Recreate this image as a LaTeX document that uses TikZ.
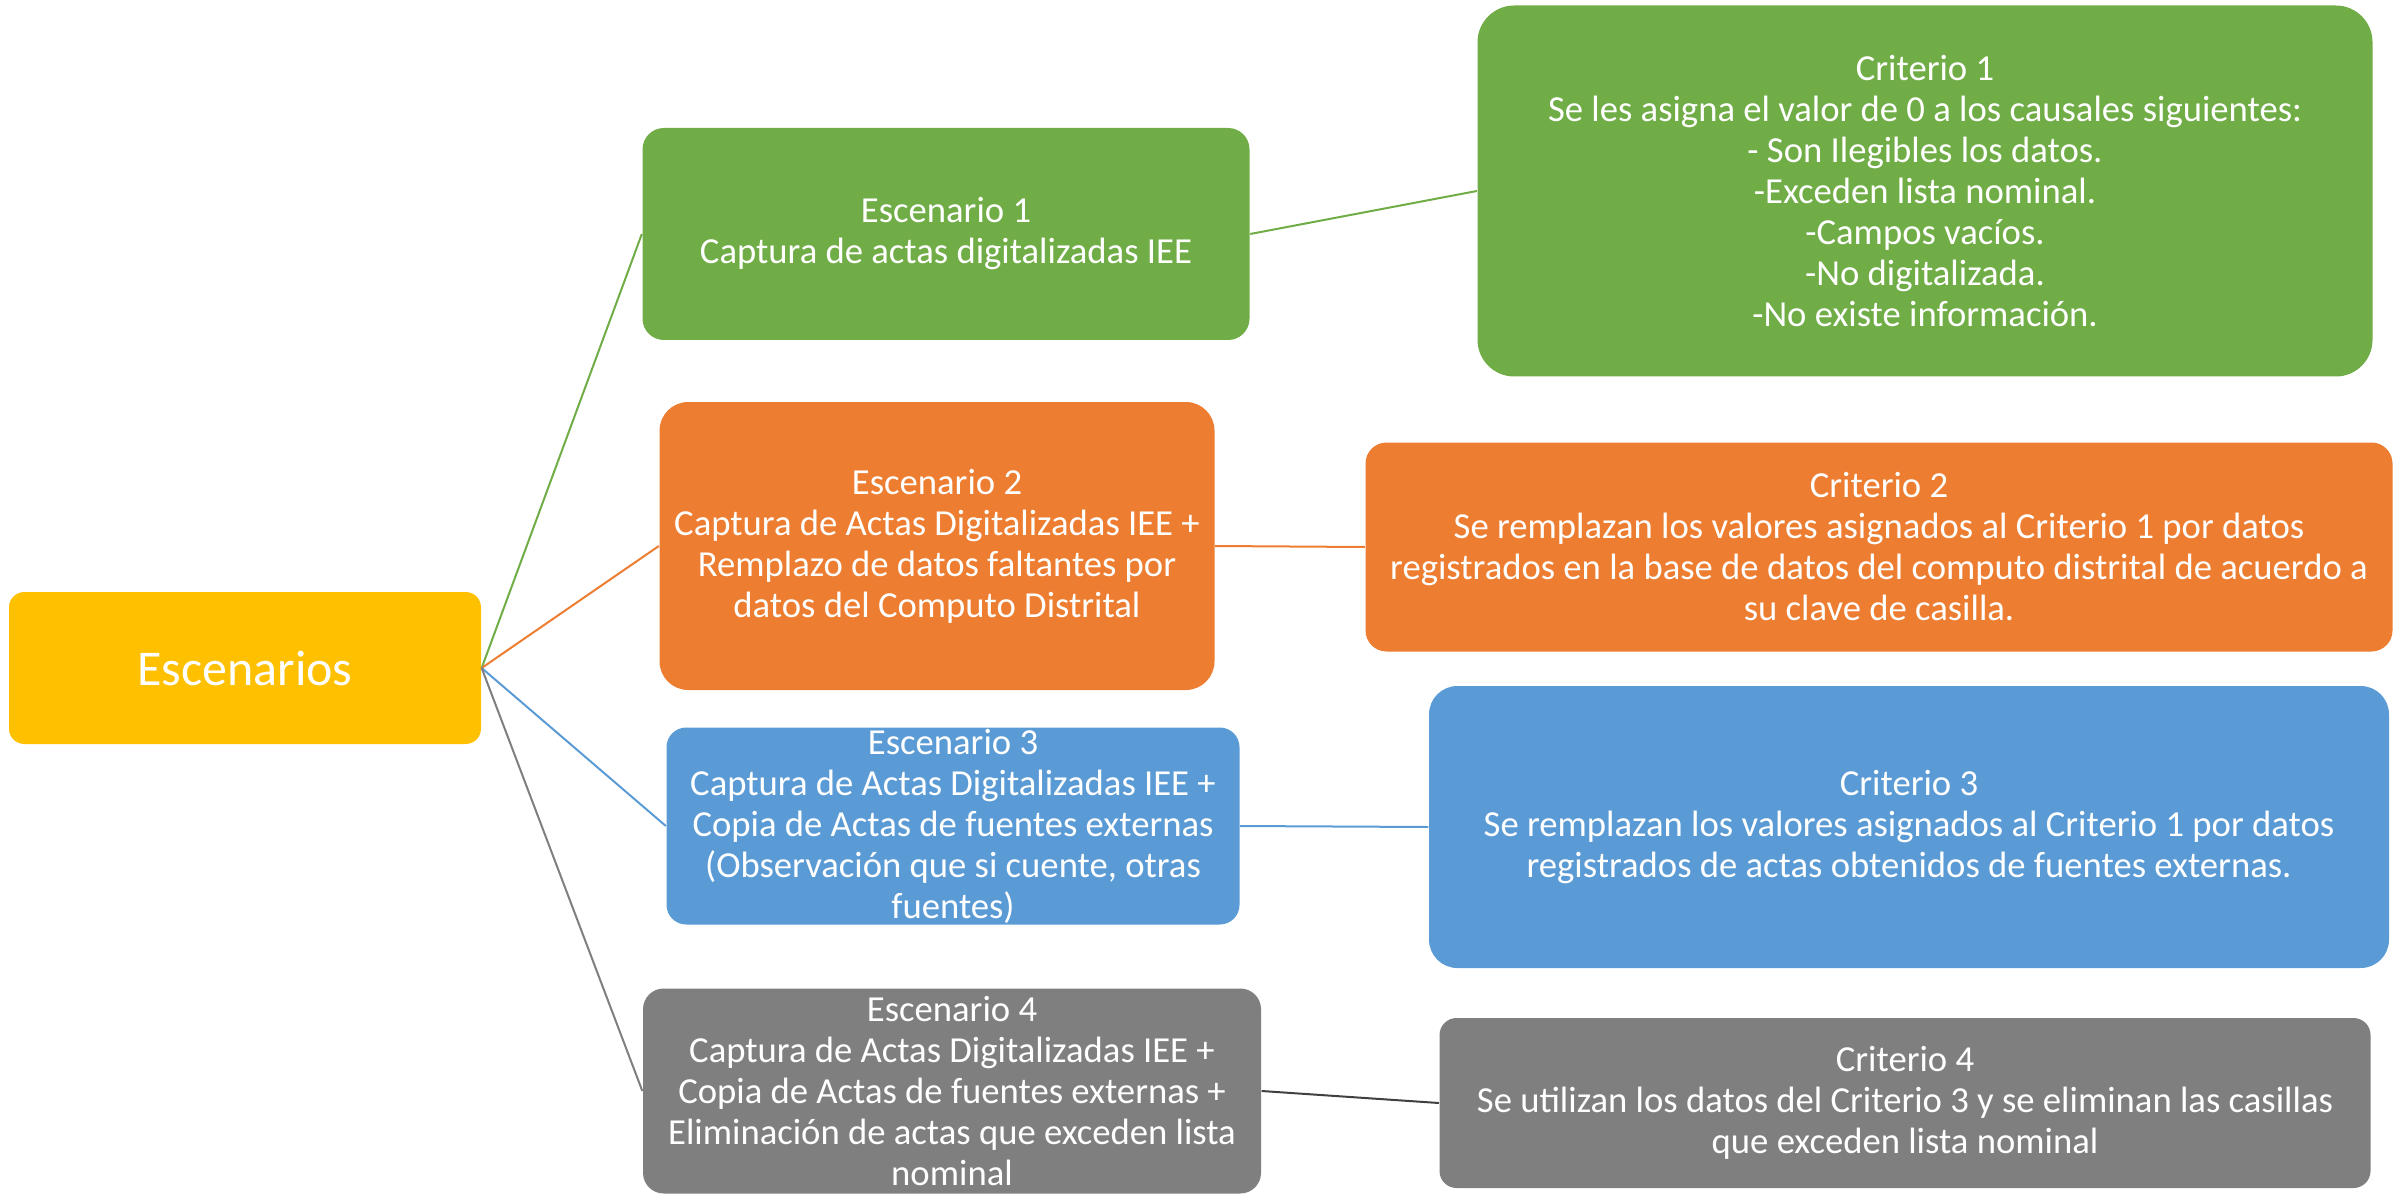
\documentclass[tikz,border=0pt]{standalone}
\usepackage{fontspec}
\setmainfont{Carlito}
\usetikzlibrary{positioning}

\definecolor{escgold}{HTML}{FFC000}
\definecolor{escgreen}{HTML}{70AD47}
\definecolor{escorange}{HTML}{ED7D31}
\definecolor{escblue}{HTML}{5B9BD5}
\definecolor{escgray}{HTML}{7F7F7F}
\definecolor{escdark}{HTML}{404040}

\begin{document}
\begin{tikzpicture}[x=0.3pt,y=-0.3pt,
  box/.style={rounded corners=#1, text=white, align=center, inner sep=0pt,
    font=\fontsize{11}{12.3}\selectfont},
  link/.style={line width=0.6pt}]
  \useasboundingbox (0,0) rectangle (2394,1197);

  \node[box=4.6pt, fill=escgold, minimum width=141.6pt, minimum height=45.6pt,
    font=\fontsize{15}{18}\selectfont] (root) at (245,668) {Escenarios};

  \node[box=6.4pt, fill=escgreen, minimum width=182.1pt, minimum height=63.6pt]
    (esc1) at (946,234) {Escenario 1\\Captura de actas digitalizadas IEE};
  \node[box=11pt, fill=escgreen, minimum width=268.5pt, minimum height=111.3pt]
    (crit1) at (1925,191) {Criterio 1\\Se les asigna el valor de 0 a los causales siguientes:\\
    - Son Ilegibles los datos.\\-Exceden lista nominal.\\-Campos vacíos.\\
    -No digitalizada.\\-No existe información.};

  \node[box=8.6pt, fill=escorange, minimum width=166.5pt, minimum height=86.4pt]
    (esc2) at (937,546) {Escenario 2\\Captura de Actas Digitalizadas IEE +\\
    Remplazo de datos faltantes por\\datos del Computo Distrital};
  \node[box=6.3pt, fill=escorange, minimum width=308.1pt, minimum height=62.7pt]
    (crit2) at (1879,547) {Criterio 2\\Se remplazan los valores asignados al Criterio 1 por datos\\
    registrados en la base de datos del computo distrital de acuerdo a\\su clave de casilla.};

  \node[box=5.9pt, fill=escblue, minimum width=171.9pt, minimum height=59.1pt]
    (esc3) at (953,826) {Escenario 3\\Captura de Actas Digitalizadas IEE +\\
    Copia de Actas de fuentes externas\\(Observación que si cuente, otras\\fuentes)};
  \node[box=8.5pt, fill=escblue, minimum width=288pt, minimum height=84.6pt]
    (crit3) at (1909,827) {Criterio 3\\Se remplazan los valores asignados al Criterio 1 por datos\\
    registrados de actas obtenidos de fuentes externas.};

  \node[box=6.2pt, fill=escgray, minimum width=185.4pt, minimum height=61.5pt]
    (esc4) at (952,1091) {Escenario 4\\Captura de Actas Digitalizadas IEE +\\
    Copia de Actas de fuentes externas +\\Eliminación de actas que exceden lista\\nominal};
  \node[box=5.1pt, fill=escgray, minimum width=279.3pt, minimum height=51pt]
    (crit4) at (1905,1103) {Criterio 4\\Se utilizan los datos del Criterio 3 y se eliminan las casillas\\
    que exceden lista nominal};

  \path[link]
    (root.east) edge[escgreen]  (esc1.west)
                edge[escorange] (esc2.west)
                edge[escblue]   (esc3.west)
                edge[escgray]   (esc4.west)
    (esc1.east) edge[escgreen]  (crit1.west)
    (esc2.east) edge[escorange] (crit2.west)
    (esc3.east) edge[escblue]   (crit3.west)
    (esc4.east) edge[escdark]   (crit4.west);
\end{tikzpicture}
\end{document}
